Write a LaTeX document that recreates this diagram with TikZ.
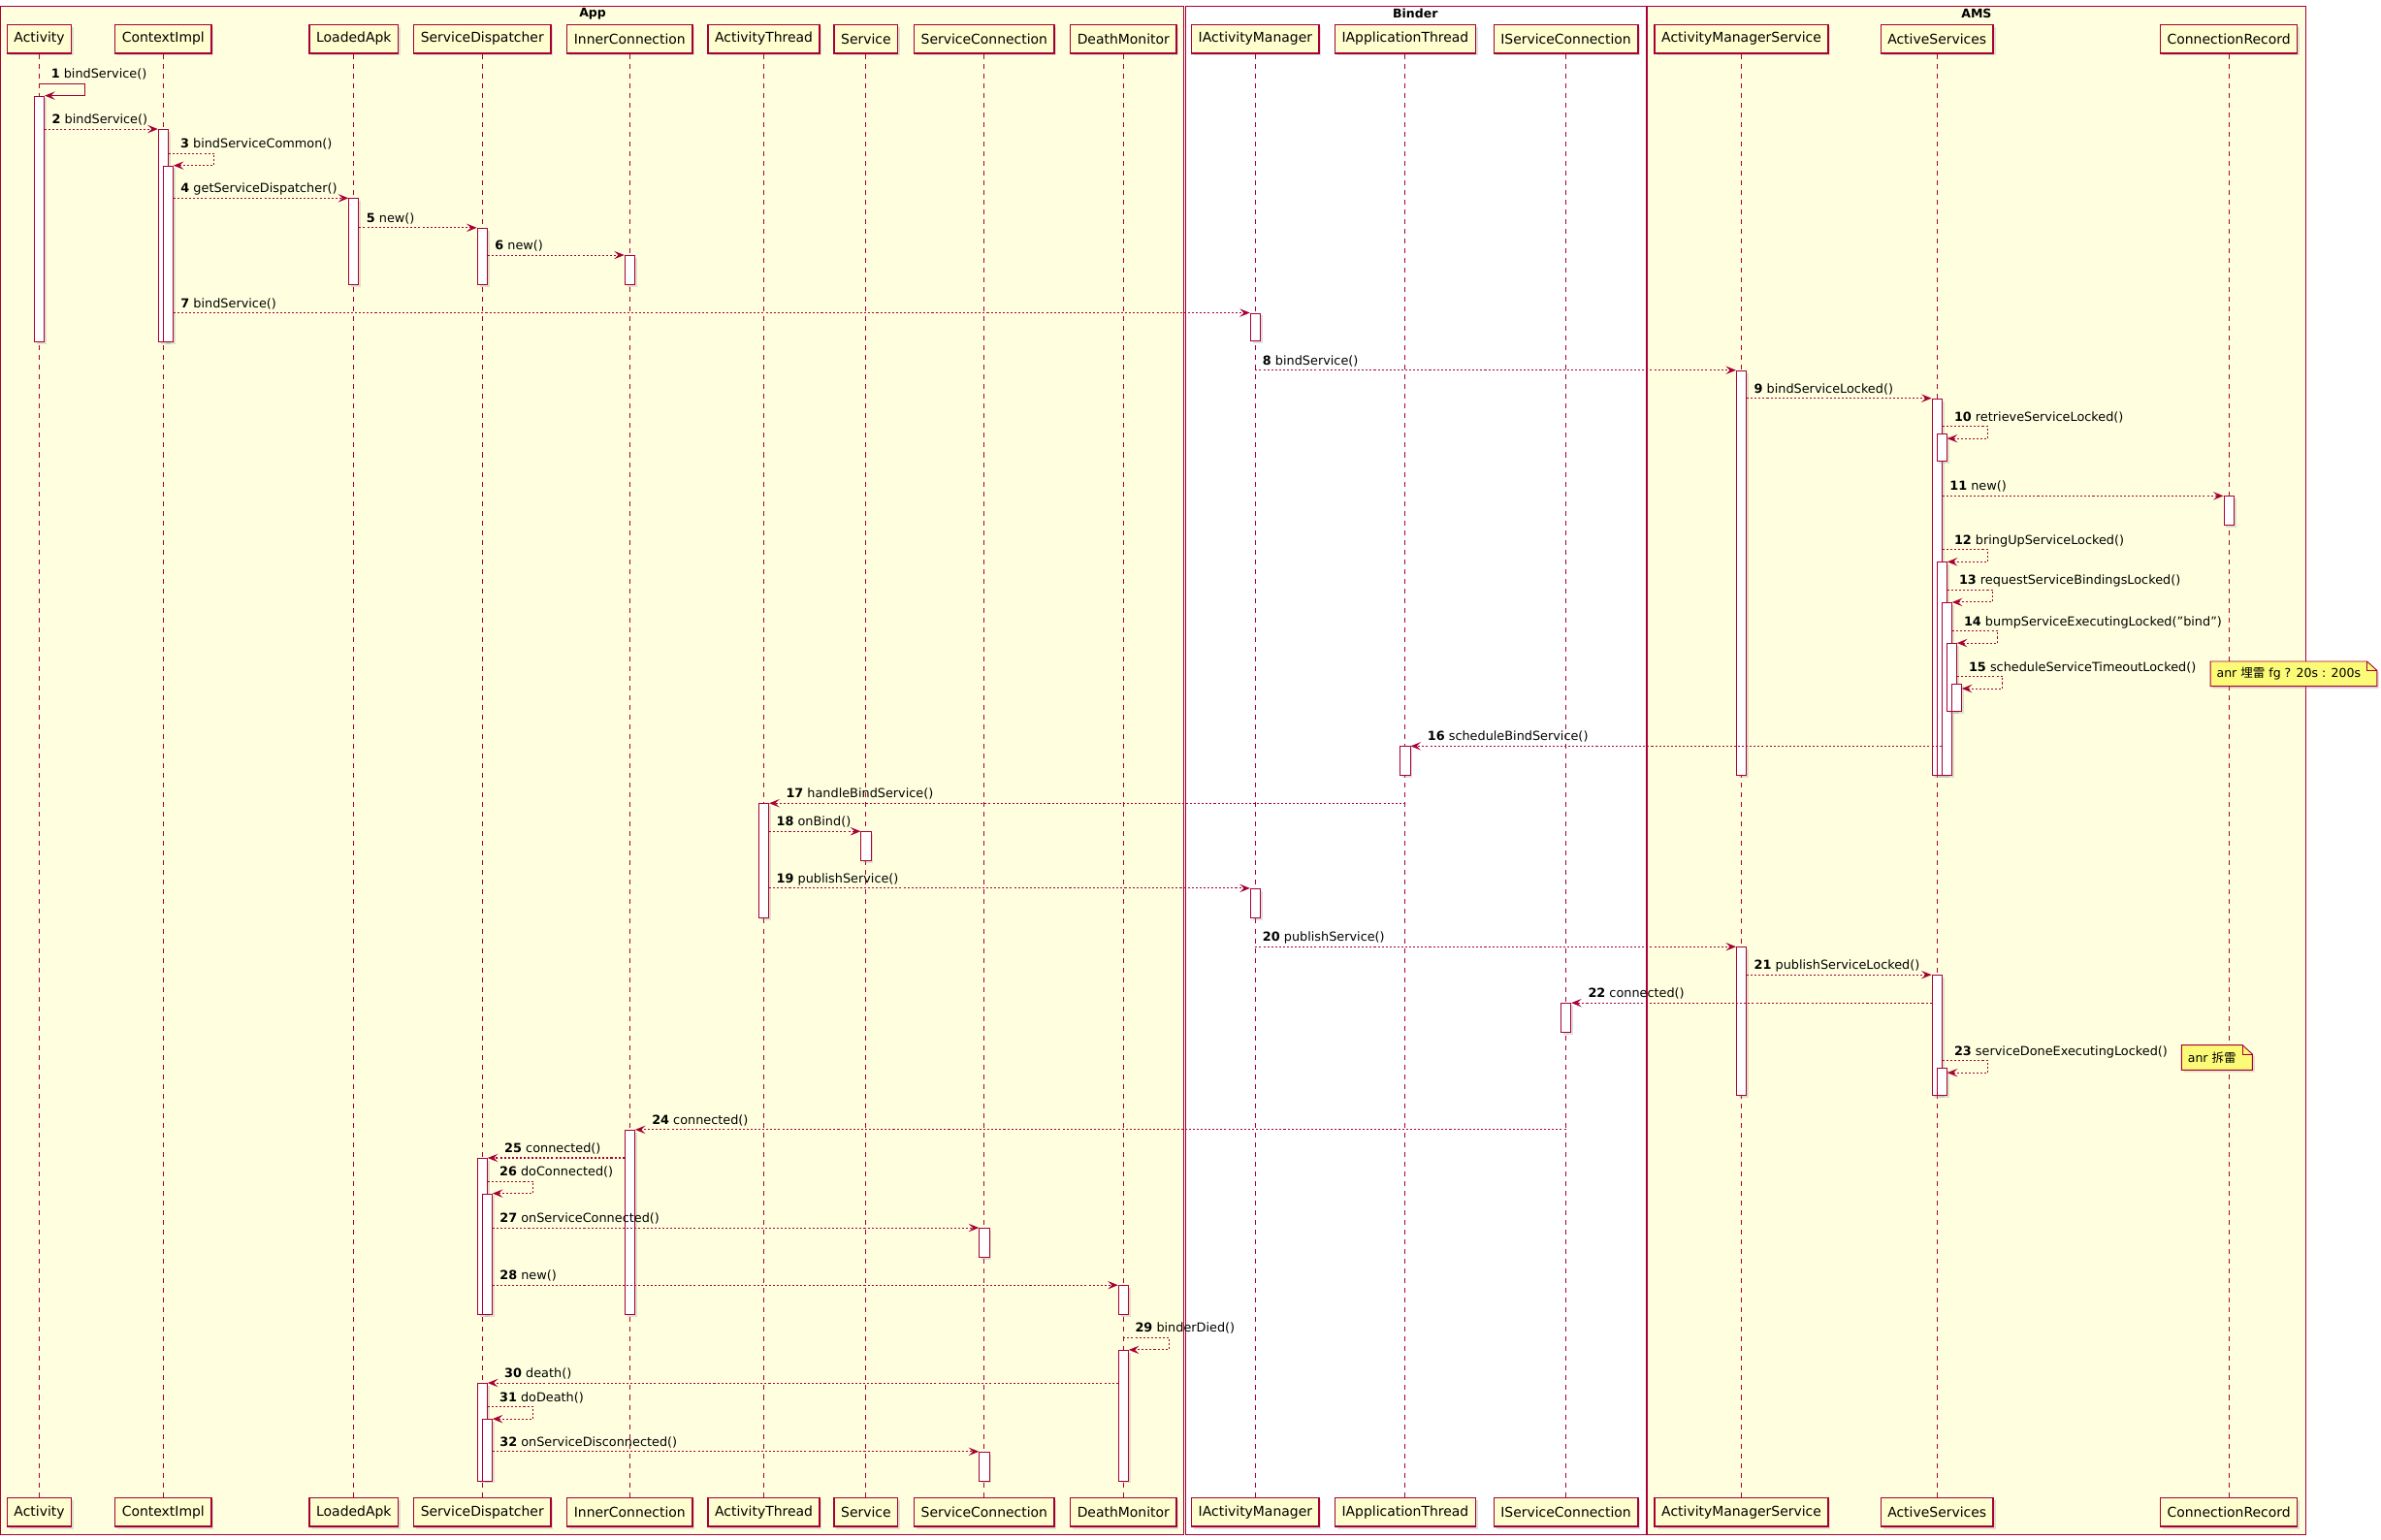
\documentclass[tikz,border=0pt]{standalone}
\usepackage{fontspec}
\setmainfont{DejaVu Sans}
\newfontfamily\cjkfont{Noto Sans CJK SC}
\usetikzlibrary{arrows.meta, shadows}

\definecolor{umlred}{HTML}{A80036}
\definecolor{partfill}{HTML}{FEFECE}
\definecolor{boxfill}{HTML}{FFFFE0}
\definecolor{notefill}{HTML}{FBFB77}

\pgfdeclarelayer{notebg}
\pgfdeclarelayer{notefront}
\pgfsetlayers{main,notebg,notefront}

\begin{document}
\begin{tikzpicture}[
    x=1pt, y=-1pt,
    font=\fontsize{8.2}{10}\selectfont,
    shade/.style={drop shadow={shadow xshift=1.5pt, shadow yshift=-1.5pt, fill=black!40, opacity=0.3}},
    part/.style={draw=umlred, line width=0.9pt, fill=partfill, minimum height=19pt,
        inner xsep=4.5pt, inner ysep=0pt, font=\fontsize{8.9}{10.5}\selectfont, shade},
    life/.style={draw=umlred, line width=0.6pt, dash pattern=on 3.2pt off 3.2pt},
    act/.style={draw=umlred, line width=0.6pt, fill=white, minimum width=6.5pt,
        inner sep=0pt, anchor=north, shade},
    msg/.style={draw=umlred, line width=0.65pt, dash pattern=on 1.3pt off 1.3pt,
        -{Stealth[length=6.8pt, width=5.4pt, inset=2.8pt]}},
    lbl/.style={anchor=base west, inner sep=0pt, xshift=4.5pt, yshift=3.5pt},
    lblback/.style={anchor=base west, inner sep=0pt, xshift=10.8pt, yshift=3.5pt},
    lblself/.style={anchor=base west, inner sep=0pt, xshift=7.5pt, yshift=3.5pt},
    grp/.style={draw=umlred, line width=0.6pt},
    grptitle/.style={font=\bfseries\fontsize{8}{9.6}\selectfont},
    notetxt/.style={anchor=west, inner xsep=4pt, inner ysep=0pt, minimum height=16pt,
        font=\fontsize{8}{9.6}\selectfont},
    notebox/.style={draw=umlred, line width=0.6pt, fill=notefill, shade}
  ]
  \useasboundingbox (0,0) rectangle (1568,1014);

  % -------- Boxes --------
  \draw[grp, fill=boxfill] (0.6,4) rectangle (779.2,1010.8);
  \draw[grp, fill=white] (780.7,4) rectangle (1083.9,1010.8);
  \draw[grp, fill=boxfill] (1084.9,4) rectangle (1518.4,1010.8);
  \node[grptitle] (tApp) at (390.3,9) {App};
  \node[grptitle] (tBinder) at (932,9) {Binder};
  \node[grptitle] (tAMS) at (1301.6,9) {AMS};

  % -------- Participants (head and foot) --------
  \node[part] (hAct) at (25.9,25.6) {Activity};
  \node[part] (fAct) at (25.9,995.9) {Activity};
  \node[part] (hCtx) at (107.5,25.6) {ContextImpl};
  \node[part] (fCtx) at (107.5,995.9) {ContextImpl};
  \node[part] (hLA) at (233,25.6) {LoadedApk};
  \node[part] (fLA) at (233,995.9) {LoadedApk};
  \node[part] (hSD) at (317.6,25.6) {ServiceDispatcher};
  \node[part] (fSD) at (317.6,995.9) {ServiceDispatcher};
  \node[part] (hIC) at (414.7,25.6) {InnerConnection};
  \node[part] (fIC) at (414.7,995.9) {InnerConnection};
  \node[part] (hAT) at (503,25.6) {ActivityThread};
  \node[part] (fAT) at (503,995.9) {ActivityThread};
  \node[part] (hSvc) at (570.3,25.6) {Service};
  \node[part] (fSvc) at (570.3,995.9) {Service};
  \node[part] (hSC) at (648.2,25.6) {ServiceConnection};
  \node[part] (fSC) at (648.2,995.9) {ServiceConnection};
  \node[part] (hDM) at (739.8,25.6) {DeathMonitor};
  \node[part] (fDM) at (739.8,995.9) {DeathMonitor};
  \node[part] (hIAM) at (826.7,25.6) {IActivityManager};
  \node[part] (fIAM) at (826.7,995.9) {IActivityManager};
  \node[part] (hIAT) at (925.4,25.6) {IApplicationThread};
  \node[part] (fIAT) at (925.4,995.9) {IApplicationThread};
  \node[part] (hISC) at (1031.2,25.6) {IServiceConnection};
  \node[part] (fISC) at (1031.2,995.9) {IServiceConnection};
  \node[part] (hAMS) at (1146.8,25.6) {ActivityManagerService};
  \node[part] (fAMS) at (1146.8,995.9) {ActivityManagerService};
  \node[part] (hAS) at (1275.6,25.6) {ActiveServices};
  \node[part] (fAS) at (1275.6,995.9) {ActiveServices};
  \node[part] (hCR) at (1467.8,25.6) {ConnectionRecord};
  \node[part] (fCR) at (1467.8,995.9) {ConnectionRecord};

  % -------- Lifelines --------
  \draw[life] (hAct) -- (fAct);
  \draw[life] (hCtx) -- (fCtx);
  \draw[life] (hLA) -- (fLA);
  \draw[life] (hSD) -- (fSD);
  \draw[life] (hIC) -- (fIC);
  \draw[life] (hAT) -- (fAT);
  \draw[life] (hSvc) -- (fSvc);
  \draw[life] (hSC) -- (fSC);
  \draw[life] (hDM) -- (fDM);
  \draw[life] (hIAM) -- (fIAM);
  \draw[life] (hIAT) -- (fIAT);
  \draw[life] (hISC) -- (fISC);
  \draw[life] (hAMS) -- (fAMS);
  \draw[life] (hAS) -- (fAS);
  \draw[life] (hCR) -- (fCR);

  % -------- Activations --------
  \node[act, minimum height=162] (aAct1) at (25.9,63) {};
  \node[act, minimum height=140] (aCtx1) at (107.5,85) {};
  \node[act, minimum height=116] (aCtx2) at (110.7,109) {};
  \node[act, minimum height=56.5] (aLA1) at (233,130.5) {};
  \node[act, minimum height=37] (aSD1) at (317.6,150) {};
  \node[act, minimum height=19] (aIC1) at (414.7,168) {};
  \node[act, minimum height=18] (aIAM1) at (826.7,206) {};
  \node[act, minimum height=266.5] (aAMS1) at (1146.8,243.8) {};
  \node[act, minimum height=248] (aAS1) at (1275.6,262.3) {};
  \node[act, minimum height=18] (aAS2) at (1278.8,285.5) {};
  \node[act, minimum height=19] (aCR1) at (1467.8,326.6) {};
  \node[act, minimum height=140.3] (aAS3) at (1278.8,370) {};
  \node[act, minimum height=113.7] (aAS4) at (1282,396.6) {};
  \node[act, minimum height=44.5] (aAS5) at (1285.2,423.5) {};
  \node[act, minimum height=18] (aAS6) at (1288.4,450) {};
  \node[act, minimum height=19] (aIAT1) at (925.4,491.4) {};
  \node[act, minimum height=75] (aAT1) at (503,529) {};
  \node[act, minimum height=19] (aSvc1) at (570.3,547.5) {};
  \node[act, minimum height=19] (aIAM2) at (826.7,585) {};
  \node[act, minimum height=97.5] (aAMS2) at (1146.8,623.5) {};
  \node[act, minimum height=79] (aAS7) at (1275.6,642) {};
  \node[act, minimum height=19] (aISC1) at (1031.2,660.5) {};
  \node[act, minimum height=18] (aAS8) at (1278.8,703) {};
  \node[act, minimum height=121.6] (aIC2) at (414.7,744) {};
  \node[act, minimum height=103] (aSD2) at (317.6,762.6) {};
  \node[act, minimum height=79.6] (aSD3) at (320.8,786) {};
  \node[act, minimum height=19] (aSC1) at (648.2,808.6) {};
  \node[act, minimum height=19.2] (aDM1) at (739.8,846.4) {};
  \node[act, minimum height=86] (aDM2) at (739.8,889) {};
  \node[act, minimum height=64.2] (aSD4) at (317.6,910.8) {};
  \node[act, minimum height=40.5] (aSD5) at (320.8,934.5) {};
  \node[act, minimum height=19] (aSC2) at (648.2,956) {};

  % -------- Messages: bind --------
  \draw[msg, solid] (aAct1.north -| hAct) ++(0,-8) -- node[pos=0, lblself] {\textbf{1} bindService()} ++(30,0) |- (aAct1.north east);
  \draw[msg] (aCtx1.north -| aAct1.east) -- node[pos=0, lbl] {\textbf{2} bindService()} (aCtx1.north west);
  \draw[msg] (aCtx2.north -| aCtx1.east) ++(0,-8) -- node[pos=0, lblself] {\textbf{3} bindServiceCommon()} ++(30,0) |- (aCtx2.north east);
  \draw[msg] (aLA1.north -| aCtx2.east) -- node[pos=0, lbl] {\textbf{4} getServiceDispatcher()} (aLA1.north west);
  \draw[msg] (aSD1.north -| aLA1.east) -- node[pos=0, lbl] {\textbf{5} new()} (aSD1.north west);
  \draw[msg] (aIC1.north -| aSD1.east) -- node[pos=0, lbl] {\textbf{6} new()} (aIC1.north west);
  \draw[msg] (aIAM1.north -| aCtx2.east) -- node[pos=0, lbl] {\textbf{7} bindService()} (aIAM1.north west);
  \draw[msg] (aAMS1.north -| hIAM) -- node[pos=0, lbl] {\textbf{8} bindService()} (aAMS1.north west);
  \draw[msg] (aAS1.north -| aAMS1.east) -- node[pos=0, lbl] {\textbf{9} bindServiceLocked()} (aAS1.north west);

  % self calls inside ActiveServices
  \coordinate (m10) at ([yshift=-3.3pt]aAS2.north east);
  \draw[msg] (m10 -| aAS1.east) ++(0,-8) -- node[pos=0, lblself] {\textbf{10} retrieveServiceLocked()} ++(30,0) |- (m10);
  \draw[msg] (aCR1.north -| aAS1.east) -- node[pos=0, lbl] {\textbf{11} new()} (aCR1.north west);
  \draw[msg] (aAS3.north -| aAS1.east) ++(0,-8) -- node[pos=0, lblself] {\textbf{12} bringUpServiceLocked()} ++(30,0) |- (aAS3.north east);
  \draw[msg] (aAS4.north -| aAS3.east) ++(0,-8) -- node[pos=0, lblself] {\textbf{13} requestServiceBindingsLocked()} ++(30,0) |- (aAS4.north east);
  \draw[msg] (aAS5.north -| aAS4.east) ++(0,-8) -- node[pos=0, lblself] {\textbf{14} bumpServiceExecutingLocked("bind")} ++(30,0) |- (aAS5.north east);
  \coordinate (m15) at ([yshift=-3.5pt]aAS6.north east);
  \draw[msg] (m15 -| aAS5.east) ++(0,-8) -- node[pos=0, lblself] {\textbf{15} scheduleServiceTimeoutLocked()} ++(30,0) |- (m15);

  % -------- Messages: publish --------
  \draw[msg] (aIAT1.north -| aAS4.west) -- node[pos=1, lblback] {\textbf{16} scheduleBindService()} (aIAT1.north east);
  \draw[msg] (aAT1.north -| hIAT) -- node[pos=1, lblback] {\textbf{17} handleBindService()} (aAT1.north east);
  \draw[msg] (aSvc1.north -| aAT1.east) -- node[pos=0, lbl] {\textbf{18} onBind()} (aSvc1.north west);
  \draw[msg] (aIAM2.north -| aAT1.east) -- node[pos=0, lbl] {\textbf{19} publishService()} (aIAM2.north west);
  \draw[msg] (aAMS2.north -| hIAM) -- node[pos=0, lbl] {\textbf{20} publishService()} (aAMS2.north west);
  \draw[msg] (aAS7.north -| aAMS2.east) -- node[pos=0, lbl] {\textbf{21} publishServiceLocked()} (aAS7.north west);
  \draw[msg] (aISC1.north -| aAS7.west) -- node[pos=1, lblback] {\textbf{22} connected()} (aISC1.north east);
  \coordinate (m23) at ([yshift=-3.5pt]aAS8.north east);
  \draw[msg] (m23 -| aAS7.east) ++(0,-8) -- node[pos=0, lblself] {\textbf{23} serviceDoneExecutingLocked()} ++(30,0) |- (m23);

  % -------- Messages: connect and death --------
  \draw[msg] (aIC2.north -| hISC) -- node[pos=1, lblback] {\textbf{24} connected()} (aIC2.north east);
  \draw[msg] (aSD2.north -| aIC2.west) -- node[pos=1, lblback] {\textbf{25} connected()} (aSD2.north east);
  \draw[msg] (aSD3.north -| aSD2.east) ++(0,-8) -- node[pos=0, lblself] {\textbf{26} doConnected()} ++(30,0) |- (aSD3.north east);
  \draw[msg] (aSC1.north -| aSD3.east) -- node[pos=0, lbl] {\textbf{27} onServiceConnected()} (aSC1.north west);
  \draw[msg] (aDM1.north -| aSD3.east) -- node[pos=0, lbl] {\textbf{28} new()} (aDM1.north west);
  \draw[msg] (aDM2.north -| hDM) ++(0,-8) -- node[pos=0, lblself] {\textbf{29} binderDied()} ++(30,0) |- (aDM2.north east);
  \draw[msg] (aSD4.north -| aDM2.west) -- node[pos=1, lblback] {\textbf{30} death()} (aSD4.north east);
  \draw[msg] (aSD5.north -| aSD4.east) ++(0,-8) -- node[pos=0, lblself] {\textbf{31} doDeath()} ++(30,0) |- (aSD5.north east);
  \draw[msg] (aSC2.north -| aSD5.east) -- node[pos=0, lbl] {\textbf{32} onServiceDisconnected()} (aSC2.north west);

  % -------- Notes --------
  \begin{pgfonlayer}{notefront}
    \node[notetxt] (n1) at (1455.6,443.8) {anr {\cjkfont 埋雷} fg ? 20s : 200s};
    \node[notetxt] (n2) at (1436.6,696.5) {anr {\cjkfont 拆雷}};
  \end{pgfonlayer}
  \begin{pgfonlayer}{notebg}
    \fill[notebox] (n1.north west) -- (n1.north east) -- ([xshift=6.5pt, yshift=-6pt]n1.north east)
      -- ([xshift=6.5pt]n1.south east) -- (n1.south west) -- cycle;
    \draw[umlred, line width=0.6pt] (n1.north east) |- ([xshift=6.5pt, yshift=-6pt]n1.north east);
    \fill[notebox] (n2.north west) -- (n2.north east) -- ([xshift=6.5pt, yshift=-6pt]n2.north east)
      -- ([xshift=6.5pt]n2.south east) -- (n2.south west) -- cycle;
    \draw[umlred, line width=0.6pt] (n2.north east) |- ([xshift=6.5pt, yshift=-6pt]n2.north east);
  \end{pgfonlayer}
\end{tikzpicture}
\end{document}
